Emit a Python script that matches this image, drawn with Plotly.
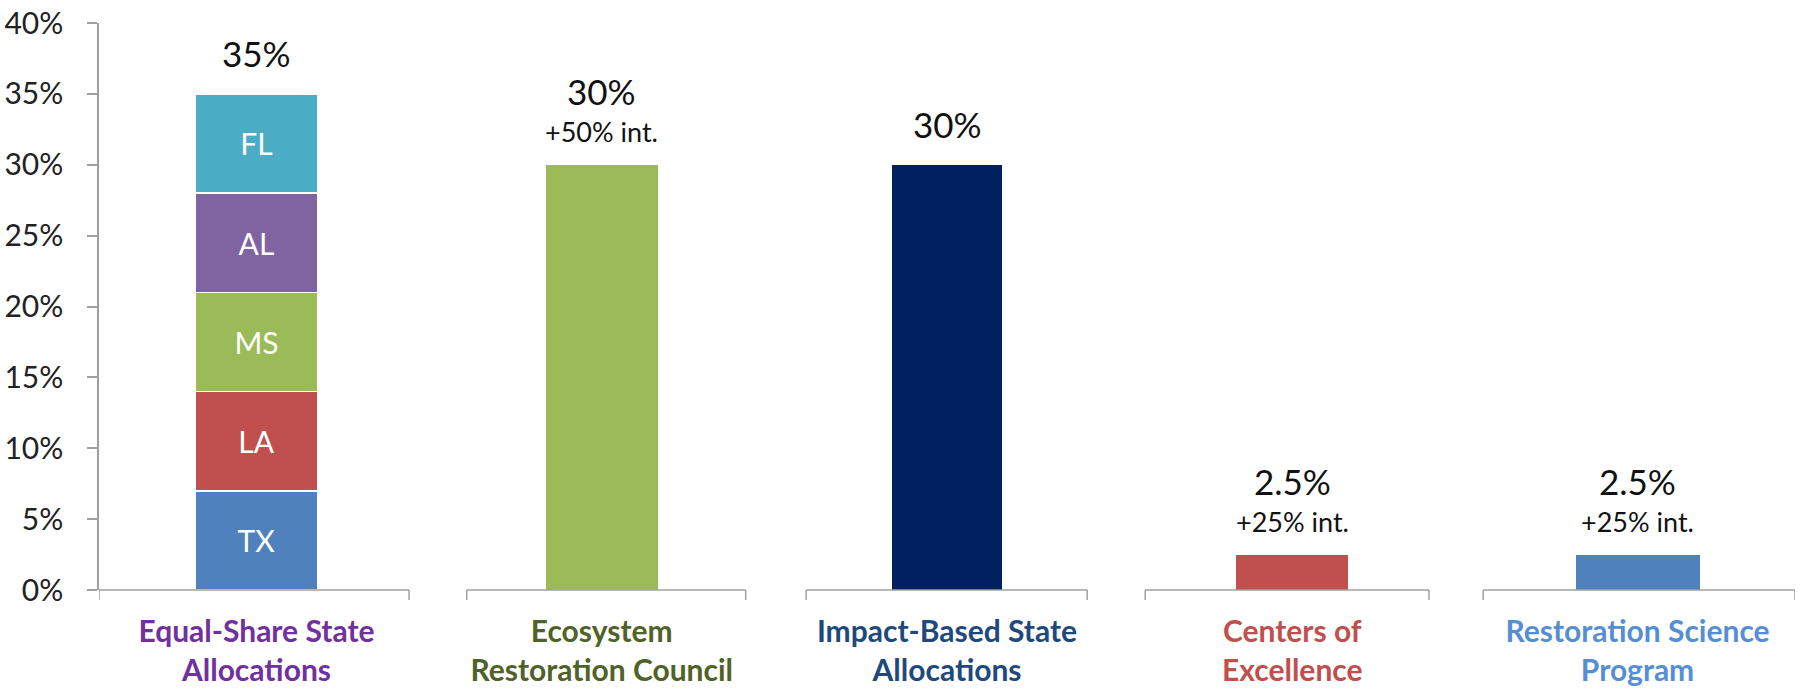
import plotly.graph_objects as go

# ---------------- data ----------------
categories = [
    "Equal-Share State Allocations",
    "Ecosystem Restoration Council",
    "Impact-Based State Allocations",
    "Centers of Excellence",
    "Restoration Science Program",
]
tick_lines = [
    ("Equal-Share State", "Allocations"),
    ("Ecosystem", "Restoration Council"),
    ("Impact-Based State", "Allocations"),
    ("Centers of", "Excellence"),
    ("Restoration Science", "Program"),
]
states = ["TX", "LA", "MS", "AL", "FL"]
state_values = [7, 7, 7, 7, 7]
program_values = [30, 30, 2.5, 2.5]
total_labels = ["35%", "30%", "30%", "2.5%", "2.5%"]
sub_labels = ["", "+50% int.", "", "+25% int.", "+25% int."]
y_ticks = [0, 5, 10, 15, 20, 25, 30, 35, 40]

# ---------------- style ----------------
FONT = "Lato"
state_colors = ["#4F81BD", "#C0504D", "#9BBB59", "#8064A2", "#4BACC6"]
program_colors = ["#9BBB59", "#00205F", "#C0504D", "#4F81BD"]
label_colors = ["#7030A0", "#4F6228", "#1F497D", "#C0504D", "#558ED5"]
state_width = 0.353
program_widths = [0.327, 0.322, 0.327, 0.362]
AXIS_GRAY = "#A0A0A0"
X_RANGE = [-0.456, 4.456]
segments = [(X_RANGE[0], 0.442), (0.609, 1.417), (1.592, 2.406),
            (2.574, 3.396), (3.553, X_RANGE[1])]

fig = go.Figure()

for s, v, c in zip(states, state_values, state_colors):
    fig.add_trace(go.Bar(
        x=[categories[0]], y=[v], name=s, width=state_width,
        marker=dict(color=c, line=dict(color="white", width=1.5)),
        text=[s], textposition="inside", insidetextanchor="middle",
        textangle=0, textfont=dict(family=FONT, size=30, color="white"),
        hoverinfo="x+y+name",
    ))

fig.add_trace(go.Bar(
    x=categories[1:], y=program_values, width=program_widths,
    marker=dict(color=program_colors, line=dict(color="white", width=1)),
    hoverinfo="x+y", showlegend=False,
))

totals = [sum(state_values)] + program_values
annotations = []
for cat, tot, main, sub in zip(categories, totals, total_labels, sub_labels):
    annotations.append(dict(
        x=cat, y=tot, xref="x", yref="y", text=main, showarrow=False,
        yanchor="middle", yshift=74 if sub else 41,
        font=dict(family=FONT, size=35, color="#111111"),
    ))
    if sub:
        annotations.append(dict(
            x=cat, y=tot, xref="x", yref="y", text=sub, showarrow=False,
            yanchor="middle", yshift=33,
            font=dict(family=FONT, size=27, color="#111111"),
        ))

shapes = []
for x0, x1 in segments:
    shapes.append(dict(type="line", xref="x", yref="paper", x0=x0, x1=x1, y0=0, y1=0,
                       line=dict(color=AXIS_GRAY, width=1.5), layer="above"))
    for xe in (x0, x1):
        shapes.append(dict(type="line", xref="x", yref="paper", ysizemode="pixel",
                           yanchor=0, x0=xe, x1=xe, y0=0, y1=-10,
                           line=dict(color=AXIS_GRAY, width=1.5)))

ticktext = [
    f'<span style="color:{c}">{a}</span><br><span style="color:{c}">{b}</span>'
    for (a, b), c in zip(tick_lines, label_colors)
]

fig.update_layout(
    width=1802, height=690,
    margin=dict(l=99, r=7, t=23, b=100),
    paper_bgcolor="white", plot_bgcolor="white",
    barmode="stack", showlegend=False,
    font=dict(family=FONT, color="#222222"),
    annotations=annotations, shapes=shapes,
    xaxis=dict(
        type="category", categoryorder="array", categoryarray=categories,
        range=X_RANGE, showline=False, showgrid=False, zeroline=False,
        ticks="", tickvals=categories, ticktext=ticktext,
        tickfont=dict(family=FONT, size=30, weight="bold"),
        ticklabelstandoff=21, automargin=False,
    ),
    yaxis=dict(
        range=[0, 40], tickvals=y_ticks, ticktext=[f"{t}%" for t in y_ticks],
        showline=True, linecolor=AXIS_GRAY, linewidth=1.5,
        ticks="outside", ticklen=10, tickcolor=AXIS_GRAY, tickwidth=1.5,
        showgrid=False, zeroline=False,
        tickfont=dict(family=FONT, size=30, color="#222222"),
        ticklabelstandoff=18, automargin=False,
    ),
)

fig.write_html(
    "out.html",
    config={"displayModeBar": False},
    post_script="document.body.style.margin='0';document.body.style.overflow='hidden';",
)
